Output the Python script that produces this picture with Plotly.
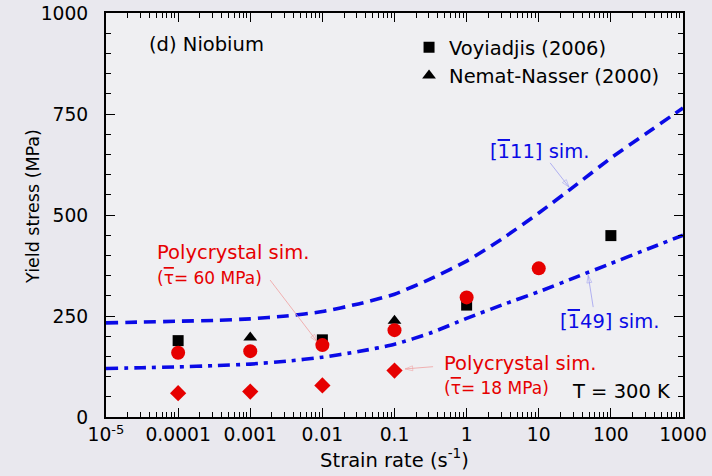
import plotly.graph_objects as go

# ---- data -------------------------------------------------------------
# experimental yield stress of niobium at room temperature
voy_rate = [0.0001, 0.01, 1, 100]
voy_stress = [189, 191, 277, 449]
nn_rate = [0.001, 0.1]
nn_stress = [197, 238]

# polycrystal simulations
poly60_rate = [0.0001, 0.001, 0.01, 0.1, 1, 10]
poly60_stress = [159, 163, 178, 215, 296, 368]
poly18_rate = [0.0001, 0.001, 0.01, 0.1]
poly18_stress = [59, 63, 78, 115]

# single-crystal simulations (half-decade samples)
sim_rate = [1e-5, 3.16e-5, 1e-4, 3.16e-4, 1e-3, 3.16e-3, 1e-2, 3.16e-2, 0.1,
            0.316, 1, 3.16, 10, 31.6, 100, 316, 1000]
sim_111 = [233, 235, 237, 239, 243, 250, 261, 280, 304, 342, 386, 442, 505,
           572, 641, 703, 765]
sim_149 = [120, 122, 124, 127, 131, 138, 148, 162, 180, 208, 244, 278, 310,
           345, 380, 415, 450]

x_tickvals = [1e-5, 1e-4, 1e-3, 1e-2, 1e-1, 1, 10, 100, 1000]
x_ticktext = ["10<sup>-5</sup>", "0.0001", "0.001", "0.01", "0.1", "1", "10",
              "100", "1000"]
x_minor = [m * 10.0 ** e for e in range(-5, 3) for m in range(2, 10)]
y_tickvals = [0, 250, 500, 750, 1000]

# leader lines: (tail rate, tail stress, head rate, head stress)
leaders = [
    (10 ** 1.158, 629, 10 ** 1.42, 569, "#a0a0f0"),
    (10 ** 1.755, 272, 10 ** 1.685, 351, "#a0a0f0"),
    (10 ** -2.725, 339, 10 ** -2.07, 186, "#f0a0a0"),
    (10 ** -0.465, 124.5, 10 ** -0.853, 119, "#f0a0a0"),
]

FONT = "DejaVu Sans"
BLUE = "#0a0ae6"
RED = "#e60000"


def bar(s):
    """Overlined character (crystal direction / mean value notation)."""
    return '<span style="text-decoration:overline">' + s + "</span>"


fig = go.Figure()

fig.add_trace(go.Scatter(x=sim_rate, y=sim_111, mode="lines", showlegend=False,
                         line=dict(color=BLUE, width=3.6, dash="12px,7px",
                                   shape="spline", smoothing=0.6)))
fig.add_trace(go.Scatter(x=sim_rate, y=sim_149, mode="lines", showlegend=False,
                         line=dict(color=BLUE, width=3.6,
                                   dash="12px,6px,4px,6px",
                                   shape="spline", smoothing=0.6)))

for x0, y0, x1, y1, col in leaders:
    fig.add_trace(go.Scatter(
        x=[x0, x1], y=[y0, y1], mode="lines+markers", showlegend=False,
        hoverinfo="skip", line=dict(color=col, width=0.8),
        marker=dict(symbol="arrow-open", angleref="previous", size=[0, 8],
                    color=col, line=dict(color=col, width=0.8))))

fig.add_trace(go.Scatter(x=voy_rate, y=voy_stress, mode="markers",
                         name="Voyiadjis (2006)",
                         marker=dict(symbol="square", size=11, color="black")))
fig.add_trace(go.Scatter(x=nn_rate, y=nn_stress, mode="markers",
                         name="Nemat-Nasser (2000)",
                         marker=dict(symbol="triangle-up", size=12,
                                     color="black")))
fig.add_trace(go.Scatter(x=poly60_rate, y=poly60_stress, mode="markers",
                         showlegend=False,
                         marker=dict(symbol="circle", size=14, color=RED)))
fig.add_trace(go.Scatter(x=poly18_rate, y=poly18_stress, mode="markers",
                         showlegend=False,
                         marker=dict(symbol="diamond", size=12.5, color=RED)))

ann = []


def text(x, y, s, color="black", size=19.5, xanchor="left"):
    ann.append(dict(x=x, y=y, xref="x", yref="y", text=s, showarrow=False,
                    xanchor=xanchor, yanchor="middle",
                    font=dict(family=FONT, size=size, color=color)))


text(-4.43, 921, "(d) Niobium")
text(1.013, 658, "[" + bar("1") + "11] sim.", color=BLUE, xanchor="center")
text(1.977, 236, "[" + bar("1") + "49] sim.", color=BLUE, xanchor="center")
text(-4.32, 408, "Polycrystal sim.", color=RED)
text(-4.32, 344, "(" + bar("\u03c4") + "= 60 MPa)", color=RED, size=17)
text(-0.344, 133, "Polycrystal sim.", color=RED)
text(-0.344, 71, "(" + bar("\u03c4") + "= 18 MPa)", color=RED, size=17)
text(3 - (683 - 673) / 72.1, 63, "T = 300 K", xanchor="right")

# y-axis title placed beside the tick labels
ann.append(dict(x=-0.1265, y=0.52, xref="paper", yref="paper",
                text="Yield stress (MPa)", textangle=-90, showarrow=False,
                xanchor="center", yanchor="middle",
                font=dict(family=FONT, size=17.5, color="black")))

axis_common = dict(showline=True, linewidth=2, linecolor="black",
                   mirror="ticks", ticks="inside", tickcolor="black",
                   tickwidth=1.2, showgrid=False, zeroline=False,
                   automargin=False,
                   tickfont=dict(family=FONT, size=18.7, color="black"))

fig.update_layout(
    width=712, height=476,
    margin=dict(l=106, r=29, t=13, b=59, autoexpand=False),
    paper_bgcolor="#e9e8ee",
    plot_bgcolor="#efeff2",
    font=dict(family=FONT, size=19.5, color="black"),
    annotations=ann,
    legend=dict(x=0.5252, y=0.9627, xanchor="left", yanchor="top",
                bgcolor="rgba(0,0,0,0)", font=dict(family=FONT, size=19.5),
                itemwidth=30, tracegroupgap=0),
    xaxis=dict(type="log", range=[-5, 3], tickmode="array",
               tickvals=x_tickvals, ticktext=x_ticktext, ticklen=9,
               ticklabelstandoff=0,
               minor=dict(tickmode="array", tickvals=x_minor, ticks="inside",
                          ticklen=5, tickcolor="black", showgrid=False),
               title=dict(text="Strain rate (s<sup>-1</sup>)", standoff=4,
                          font=dict(family=FONT, size=19.5)),
               **axis_common),
    yaxis=dict(range=[0, 1000], tickmode="array", tickvals=y_tickvals,
               ticklen=9, ticklabelstandoff=12,
               minor=dict(dtick=50, ticks="inside", ticklen=5,
                          tickcolor="black", showgrid=False),
               **axis_common),
)

fig.write_html("out.html")
